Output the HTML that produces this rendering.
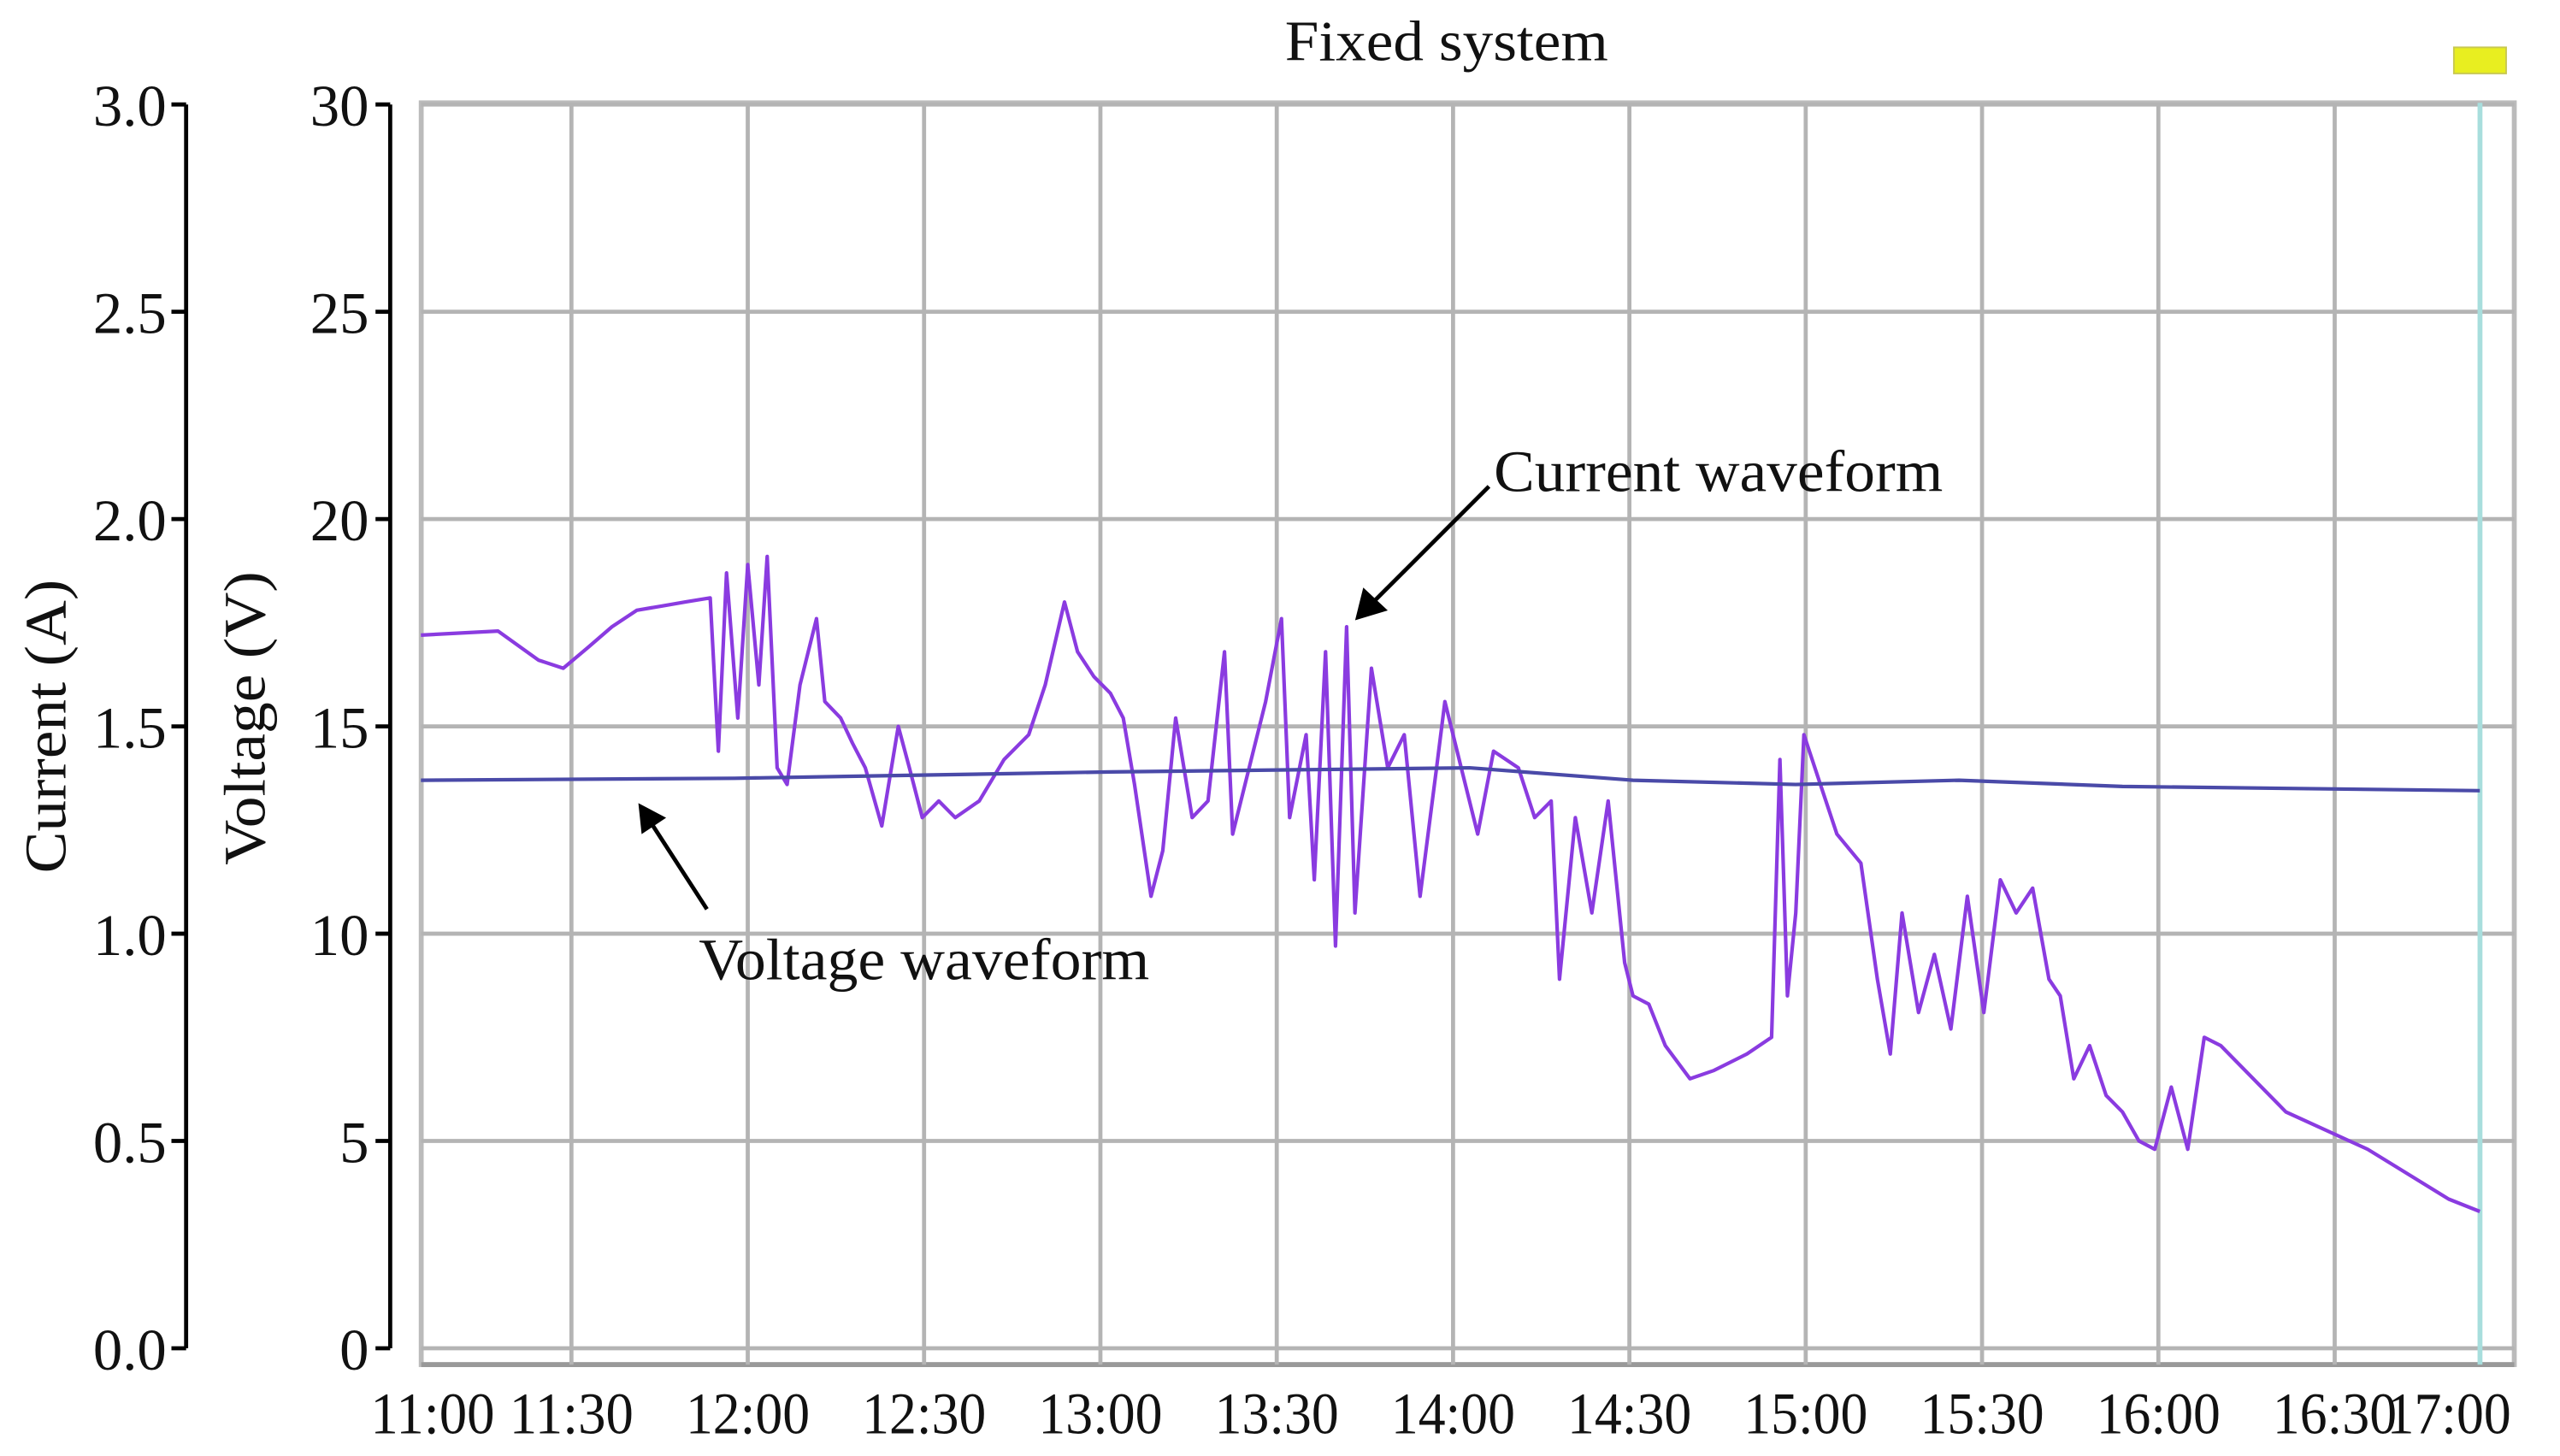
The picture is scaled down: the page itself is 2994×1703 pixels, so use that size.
<!DOCTYPE html>
<html><head><meta charset="utf-8">
<style>html,body{margin:0;padding:0;background:#fff;}svg{display:block;}</style></head>
<body>
<svg id="chart" width="2994" height="1703" viewBox="0 0 1568 892" preserveAspectRatio="none" xmlns="http://www.w3.org/2000/svg" font-family="'Liberation Serif', serif">
<text x="886" y="37" font-size="35" text-anchor="middle" fill="#111" textLength="198" lengthAdjust="spacingAndGlyphs">Fixed system</text>
<rect x="1503" y="29" width="32" height="16" fill="#e8ee20" stroke="#c8c850" stroke-width="1"/>
<g id="grid"></g>
<g id="axes"></g>
<line x1="1519" y1="63" x2="1519" y2="836" stroke="#a8dedd" stroke-width="3"/>
<g id="series"></g>
<text transform="translate(40,445) rotate(-90)" font-size="36" text-anchor="middle" fill="#111" textLength="180" lengthAdjust="spacingAndGlyphs">Current (A)</text>
<text transform="translate(162,440) rotate(-90)" font-size="36" text-anchor="middle" fill="#111" textLength="180" lengthAdjust="spacingAndGlyphs">Voltage (V)</text>
<text x="915" y="301" font-size="36" fill="#111" textLength="275" lengthAdjust="spacingAndGlyphs">Current waveform</text>
<text x="428" y="600" font-size="36" fill="#111" textLength="276" lengthAdjust="spacingAndGlyphs">Voltage waveform</text>
<g>
<line x1="912" y1="298" x2="842" y2="368" stroke="#000" stroke-width="2.5"/>
<polygon points="830,380 835,360 850,374" fill="#000"/>
</g>
<g>
<line x1="433" y1="557" x2="400" y2="506" stroke="#000" stroke-width="2.5"/>
<polygon points="391,492 408,501 393,511" fill="#000"/>
</g>
</svg>
<script>
const xTickLabels = ["11:00","11:30","12:00","12:30","13:00","13:30","14:00","14:30","15:00","15:30","16:00","16:30","17:00"];
const voltTicks = [0,5,10,15,20,25,30];
const currTicks = ["0.0","0.5","1.0","1.5","2.0","2.5","3.0"];
const currentTimes = [4.4,17.5,24.4,28.6,32.8,36.9,41.1,45.3,49.4,53.6,55,56.4,58.3,60,61.9,63.3,65,66.7,68.9,71.7,73.1,75.8,77.8,80,82.8,85.6,87.5,89.7,92.5,95.3,99.4,103.6,107.8,110.6,113.9,116.1,118.9,121.7,123.9,125.8,128.6,130.6,132.8,135.6,138.3,141.1,142.5,145.3,148.1,150.8,152.2,155,156.4,158.3,160,161.9,163.3,166.1,168.9,171.7,174.4,177.2,178.6,181.4,184.2,186.9,191.1,193.9,196.7,198.1,200.8,203.6,206.4,209.2,210.6,213.3,216.1,220.3,224.4,230,234.2,235.6,236.9,238.3,239.7,242.5,245.3,249.4,252.2,254.4,256.4,259.2,261.9,264.7,267.5,270.3,273.1,275.8,278.6,281.4,283.3,285.6,288.3,291.1,293.9,296.7,299.4,302.2,305,307.8,310.6,321.7,335.6,349.4,354.7];
const currentAmps = [1.72,1.73,1.66,1.64,1.69,1.74,1.78,1.79,1.80,1.81,1.44,1.87,1.52,1.89,1.60,1.91,1.40,1.36,1.60,1.76,1.56,1.52,1.46,1.40,1.26,1.50,1.40,1.28,1.32,1.28,1.32,1.42,1.48,1.60,1.80,1.68,1.62,1.58,1.52,1.36,1.09,1.20,1.52,1.28,1.32,1.68,1.24,1.40,1.56,1.76,1.28,1.48,1.13,1.68,0.97,1.74,1.05,1.64,1.40,1.48,1.09,1.40,1.56,1.40,1.24,1.44,1.40,1.28,1.32,0.89,1.28,1.05,1.32,0.93,0.85,0.83,0.73,0.65,0.67,0.71,0.75,1.42,0.85,1.05,1.48,1.36,1.24,1.17,0.89,0.71,1.05,0.81,0.95,0.77,1.09,0.81,1.13,1.05,1.11,0.89,0.85,0.65,0.73,0.61,0.57,0.50,0.48,0.63,0.48,0.75,0.73,0.57,0.48,0.36,0.33];
const voltageTimes = [4.4,57.8,121.7,182.8,210.6,238.3,266.1,293.9,354.7];
const voltageValues = [13.7,13.75,13.9,14.0,13.7,13.6,13.7,13.55,13.45];

const NS="http://www.w3.org/2000/svg";
const X0=242, PXMIN=3.6, Y0=826, PXV=25.4;
function xT(t){return X0+t*PXMIN;}
function yV(v){return Y0-v*PXV;}
function yA(a){return Y0-a*254;}
function mk(tag,attrs,parent){const e=document.createElementNS(NS,tag);for(const k in attrs)e.setAttribute(k,attrs[k]);parent.appendChild(e);return e;}
const grid=document.getElementById('grid'), axes=document.getElementById('axes'), series=document.getElementById('series');
let fr=mk('rect',{x:258,y:63,width:1282,height:773,fill:'none',stroke:'#bbb','stroke-width':3},grid);


let bb=mk('line',{x1:258,y1:836,x2:1540,y2:836,stroke:'#999','stroke-width':3},grid);


voltTicks.forEach((v,i)=>{
  const y=yV(v);
  let g=mk('line',{x1:258,y1:y,x2:1540,y2:y,stroke:'#b4b4b4','stroke-width':2.5},grid);
  
  
  let t=mk('text',{x:226,y:y+13,'font-size':36,'text-anchor':'end',fill:'#111'},axes);t.textContent=v;
  
  
  mk('line',{x1:230,y1:y,x2:239,y2:y,stroke:'#000','stroke-width':2.5},axes);
  let c=mk('text',{x:102,y:y+13,'font-size':36,'text-anchor':'end',fill:'#111'},axes);c.textContent=currTicks[i];
  
  
  mk('line',{x1:105,y1:y,x2:114,y2:y,stroke:'#000','stroke-width':2.5},axes);
});
mk('line',{x1:239,y1:yV(30),x2:239,y2:yV(0),stroke:'#000','stroke-width':2.5},axes);
mk('line',{x1:114,y1:yV(30),x2:114,y2:yV(0),stroke:'#000','stroke-width':2.5},axes);
xTickLabels.forEach((lab,i)=>{
  const x=xT(i*30);
  if(i>0&&i<12){let g=mk('line',{x1:x,y1:63,x2:x,y2:836,stroke:'#b4b4b4','stroke-width':2.5},grid);
    
    }
  let lx=x; if(i===0)lx=265; if(i===12)lx=1500;
  let t=mk('text',{x:lx,y:878,'font-size':36,'text-anchor':'middle',fill:'#111',textLength:76,lengthAdjust:'spacingAndGlyphs'},axes);
  t.textContent=lab;
  
  
});
let cp=currentTimes.map((t,i)=>xT(t).toFixed(1)+','+yA(currentAmps[i]).toFixed(1)).join(' ');
let cl=mk('polyline',{points:cp,fill:'none',stroke:'#8a3be0','stroke-width':2.2,'stroke-linejoin':'round'},series);


let vp=voltageTimes.map((t,i)=>xT(t).toFixed(1)+','+yV(voltageValues[i]).toFixed(1)).join(' ');
let vl=mk('polyline',{points:vp,fill:'none',stroke:'#4a4aa8','stroke-width':2.2},series);


</script>
</body></html>
